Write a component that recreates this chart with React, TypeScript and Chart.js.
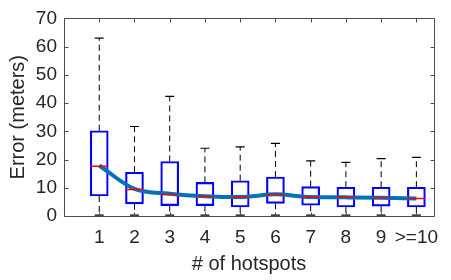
import React, { useEffect, useRef } from "react";
import { Chart, registerables } from "chart.js";

Chart.register(...registerables);

const categories = ["1", "2", "3", "4", "5", "6", "7", "8", "9", ">=10"];
const positions = [1, 2, 3, 4, 5, 6, 7, 8, 9, 10];
const q1 = [7.1, 4.3, 3.7, 3.7, 3.2, 4.5, 3.8, 3.2, 3.5, 3.2];
const q3 = [30.2, 15.5, 19.3, 11.9, 12.5, 13.8, 10.4, 10.2, 10.2, 10.2];
const medians = [17.6, 9.4, 7.6, 6.9, 6.7, 7.6, 6.6, 6.7, 6.5, 6.2];
const upperWhisker = [63.0, 31.7, 42.4, 24.0, 24.5, 25.7, 19.5, 19.0, 20.3, 20.8];
const lowerWhisker = [0.3, 0.3, 0.3, 0.3, 0.3, 0.3, 0.3, 0.3, 0.3, 0.3];
const trend = [17.9, 9.6, 7.9, 7.0, 6.7, 7.7, 6.7, 6.6, 6.5, 6.2];
const yTicks = [0, 10, 20, 30, 40, 50, 60, 70];

const TEXT = "#262626";
const FONT = "'Liberation Sans', Arial, Helvetica, sans-serif";

const framePlugin = {
  id: "frame",
  afterDatasetsDraw(chart: any) {
    const { ctx, chartArea } = chart;
    const { left, right, top, bottom } = chartArea;
    const xs = chart.scales.x;
    const ys = chart.scales.y;
    const L = Math.round(left) + 0.5;
    const R = Math.round(right) + 0.5;
    const T = Math.round(top) + 0.5;
    const B = Math.round(bottom) + 0.5;
    ctx.save();
    ctx.strokeStyle = "#4d4d4d";
    ctx.lineWidth = 1;
    ctx.setLineDash([]);
    ctx.beginPath();
    ctx.rect(L, T, R - L, B - T);
    const tl = 4;
    positions.forEach((p) => {
      const x = Math.round(xs.getPixelForValue(p)) + 0.5;
      ctx.moveTo(x, B);
      ctx.lineTo(x, B - tl);
      ctx.moveTo(x, T);
      ctx.lineTo(x, T + tl);
    });
    yTicks.forEach((v) => {
      const y = Math.round(ys.getPixelForValue(v)) + 0.5;
      ctx.moveTo(L, y);
      ctx.lineTo(L + tl, y);
      ctx.moveTo(R, y);
      ctx.lineTo(R - tl, y);
    });
    ctx.stroke();
    ctx.restore();
  },
};

export default function App() {
  const ref = useRef<HTMLCanvasElement | null>(null);

  useEffect(() => {
    if (!ref.current) return;
    const whiskerPts: any[] = [];
    positions.forEach((p, i) => {
      whiskerPts.push({ x: p, y: q3[i] });
      whiskerPts.push({ x: p, y: upperWhisker[i] });
      whiskerPts.push({ x: p, y: null });
      whiskerPts.push({ x: p, y: q1[i] });
      whiskerPts.push({ x: p, y: lowerWhisker[i] });
      whiskerPts.push({ x: p, y: null });
    });
    const capPts: any[] = [];
    positions.forEach((p, i) => {
      capPts.push({ x: p, y: upperWhisker[i] });
      capPts.push({ x: p, y: lowerWhisker[i] });
    });

    const chart = new Chart(ref.current, {
      type: "bar",
      data: {
        datasets: [
          {
            type: "line",
            data: whiskerPts,
            borderColor: "#000000",
            borderWidth: 1,
            borderDash: [6, 4],
            pointRadius: 0,
            spanGaps: false,
            fill: false,
            order: 5,
          } as any,
          {
            type: "bar",
            data: positions.map((p, i) => ({ x: p, y: [q1[i], q3[i]] })),
            backgroundColor: "rgba(0,0,0,0)",
            borderColor: "#0000ff",
            borderWidth: 1.5,
            borderSkipped: false,
            barThickness: 18,
            order: 4,
          } as any,
          {
            type: "scatter",
            data: capPts,
            pointStyle: "line",
            pointRadius: 4.5,
            borderColor: "#000000",
            backgroundColor: "#000000",
            pointBorderWidth: 1.2,
            order: 3,
          } as any,
          {
            type: "line",
            data: positions.map((p, i) => ({ x: p, y: trend[i] })),
            borderColor: "#0072BD",
            borderWidth: 4,
            pointRadius: 0,
            cubicInterpolationMode: "monotone",
            fill: false,
            order: 2,
          } as any,
          {
            type: "scatter",
            data: positions.map((p, i) => ({ x: p, y: medians[i] })),
            pointStyle: "line",
            pointRadius: 9,
            borderColor: "#ff0000",
            backgroundColor: "#ff0000",
            pointBorderWidth: 1.5,
            order: 1,
          } as any,
        ],
      },
      options: {
        animation: false,
        responsive: false,
        layout: { padding: { top: 14, right: 17, left: 0, bottom: 0 } },
        plugins: { legend: { display: false }, tooltip: { enabled: false } },
        scales: {
          x: {
            type: "linear",
            min: 0,
            max: 10.5,
            offset: false,
            afterFit(scale: any) {
              scale.height = 64;
            },
            afterBuildTicks(scale: any) {
              scale.ticks = positions.map((v) => ({ value: v }));
            },
            ticks: {
              autoSkip: false,
              maxRotation: 0,
              padding: 10,
              color: TEXT,
              font: { family: FONT, size: 19 },
              callback: (v: any) => {
                const idx = positions.indexOf(Number(v));
                return idx >= 0 ? categories[idx] : "";
              },
            },
            grid: { display: false, drawTicks: false, offset: false },
            border: { display: false },
            title: {
              display: true,
              text: "# of hotspots",
              color: TEXT,
              font: { family: FONT, size: 20 },
              padding: { top: 0, bottom: 4 },
            },
          },
          y: {
            type: "linear",
            min: 0,
            max: 70,
            afterFit(scale: any) {
              scale.width = 64;
            },
            afterBuildTicks(scale: any) {
              scale.ticks = yTicks.map((v) => ({ value: v }));
            },
            ticks: {
              padding: 7,
              color: TEXT,
              font: { family: FONT, size: 19 },
            },
            grid: { display: false, drawTicks: false },
            border: { display: false },
            title: {
              display: true,
              text: "Error (meters)",
              color: TEXT,
              font: { family: FONT, size: 20 },
              padding: { top: 6, bottom: 0 },
            },
          },
        },
      },
      plugins: [framePlugin],
    });
    return () => chart.destroy();
  }, []);

  return (
    <div style={{ position: "absolute", left: 0, top: 0, width: 451, height: 280, background: "#fff" }}>
      <canvas ref={ref} width={451} height={280} />
    </div>
  );
}
